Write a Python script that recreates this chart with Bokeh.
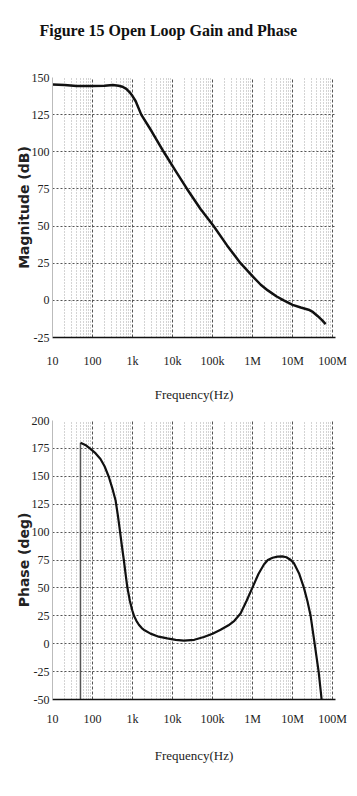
from bokeh.plotting import figure
from bokeh.layouts import column
from bokeh.models import FixedTicker, Range1d, Title
from bokeh.embed import file_html
from bokeh.resources import INLINE

# ---- data ----
mag_freq = [10, 20, 40, 100, 200, 320, 450, 560, 700, 850, 1000, 1200, 1650,
            3000, 6000, 12000, 23000, 50000, 106000, 230000, 500000,
            1060000, 1600000, 2400000, 4000000, 6000000, 10000000, 16000000,
            25000000, 32000000, 42000000, 55000000, 67000000]
mag_db = [145.3, 145.0, 144.3, 144.2, 144.5, 144.9, 144.5, 143.8, 142.3, 140.0, 137.5,
          134.0, 125.0, 113.8, 100.0, 87.0, 75.0, 61.5, 50.0, 37.0, 25.0,
          15.5, 10.5, 6.7, 2.6, 0.0, -3.0, -4.8, -6.3, -7.8, -10.5, -13.5, -16.0]

ph_freq = [50, 70, 89, 120, 158, 200, 256, 320, 376, 430, 482, 540, 606, 670, 738, 850,
           983, 1100, 1250, 1438, 1700, 2000, 2818, 4500, 7372, 12000, 19170, 35000,
           60650, 100000, 158500, 250000, 350000, 500000, 700000, 984000, 1400000,
           1920000, 2400000, 3160000, 4200000, 5500000, 7000000, 9000000, 10800000,
           14500000, 19200000, 23500000, 28200000, 35500000, 44700000, 53100000]
ph_deg = [180, 177.5, 174.5, 170.5, 165.5, 159.0, 149.4, 138.0, 128.6, 115.0, 101.8, 88.0,
          75.0, 62.5, 51.0, 39.0, 30.0, 24.5, 20.5, 17.0, 14.0, 12.0, 9.0, 6.3, 4.8, 3.5,
          2.8, 3.5, 6.0, 9.0, 12.5, 16.5, 20.5, 27.0, 38.0, 50.0, 62.5, 71.0, 75.0, 77.0,
          78.0, 78.3, 77.5, 75.0, 72.0, 63.0, 50.0, 38.0, 25.0, 0.0, -25.0, -50.0]

decades = [10, 100, 1000, 10000, 100000, 1000000, 10000000, 100000000]
decade_labels = ["10", "100", "1k", "10k", "100k", "1M", "10M", "100M"]
mag_ticks = [-25, 0, 25, 50, 75, 100, 125, 150]
ph_ticks = [-50, -25, 0, 25, 50, 75, 100, 125, 150, 175, 200]
title_text = "Figure 15 Open Loop Gain and Phase"

minor = [m * d for d in decades[:-1] for m in range(2, 10)]

SERIF = "Liberation Serif"


def make_fig(height, top, bottom, yr, yticks, ylabel, tick_standoff, label_standoff):
    p = figure(width=357, height=height, x_axis_type="log",
               x_range=Range1d(10, 1.18e8), y_range=Range1d(*yr),
               output_backend="svg", toolbar_location=None,
               min_border_left=52, min_border_right=22,
               min_border_top=top, min_border_bottom=bottom,
               title=None)
    p.outline_line_color = None
    p.background_fill_color = "white"
    p.border_fill_color = "white"

    p.xaxis.ticker = FixedTicker(ticks=decades, minor_ticks=minor)
    p.xaxis.major_label_overrides = {d: l for d, l in zip(decades, decade_labels)}
    p.yaxis.ticker = FixedTicker(ticks=yticks)
    p.yaxis.major_label_overrides = {t: str(t) for t in yticks}

    for ax in (p.xaxis[0], p.yaxis[0]):
        ax.major_tick_line_color = None
        ax.minor_tick_line_color = None
        ax.major_label_text_font = SERIF
        ax.major_label_text_font_size = "12px"
        ax.major_label_text_color = "#222222"
    p.xaxis.axis_line_color = "#111111"
    p.xaxis.axis_line_width = 1.5
    p.yaxis.axis_line_color = "#bbbbbb"
    p.yaxis.axis_line_width = 1
    p.xaxis.major_label_standoff = tick_standoff
    p.yaxis.major_label_standoff = -3

    p.xaxis.axis_label = "Frequency(Hz)"
    p.xaxis.axis_label_text_font = SERIF
    p.xaxis.axis_label_text_font_style = "normal"
    p.xaxis.axis_label_text_font_size = "13px"
    p.xaxis.axis_label_text_color = "#222222"
    p.xaxis.axis_label_standoff = label_standoff

    p.yaxis.axis_label = ylabel
    p.yaxis.axis_label_text_font = "DejaVu Sans"
    p.yaxis.axis_label_text_font_style = "bold"
    p.yaxis.axis_label_text_font_size = "14px"
    p.yaxis.axis_label_text_color = "#222222"
    p.yaxis.axis_label_standoff = -3

    p.ygrid.grid_line_color = "#555555"
    p.ygrid.grid_line_dash = "2 2"
    p.ygrid.grid_line_width = 1
    p.xgrid.grid_line_color = "#555555"
    p.xgrid.grid_line_dash = "3 2"
    p.xgrid.minor_grid_line_color = "#a8a8a8"
    p.xgrid.minor_grid_line_dash = "1 2"
    return p


p1 = make_fig(410, 77, 73, (-25, 150), mag_ticks, "Magnitude (dB)", 10, 16)
# spacer between the frame and the title (closest to the frame)
p1.add_layout(Title(text=" ", text_font_size="1px", standoff=36), "above")
p1.add_layout(Title(text=title_text, text_font=SERIF, text_font_size="16px",
                    text_font_style="bold", text_color="#111111", align="left",
                    offset=-13, standoff=0), "above")
p1.line(mag_freq, mag_db, line_color="#111111", line_width=2.5, line_join="round")

p2 = make_fig(386, 10, 97, (-50, 200), ph_ticks, "Phase (deg)", 6, 19)
p2.segment(x0=[ph_freq[0]], y0=[ph_ticks[0]], x1=[ph_freq[0]], y1=[ph_deg[0]],
           line_color="#555555", line_width=1.5)
p2.line(ph_freq, ph_deg, line_color="#111111", line_width=2.2, line_join="round")

layout = column(p1, p2, spacing=0)
open("out.html", "w").write(file_html(layout, INLINE))
